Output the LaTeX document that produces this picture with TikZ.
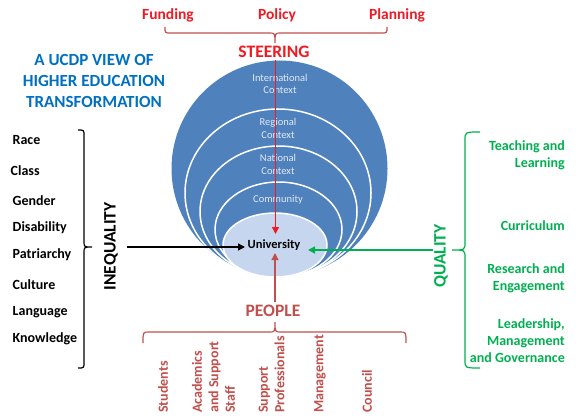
\documentclass[tikz,border=0pt]{standalone}
\usepackage{fontspec}
\setmainfont{Carlito}
\usetikzlibrary{arrows.meta}
\definecolor{outerblue}{HTML}{4F81BD}
\definecolor{unifill}{HTML}{C6D6EE}
\definecolor{ctxtext}{HTML}{E3E9F3}
\definecolor{titleblue}{HTML}{0070C0}
\definecolor{steerred}{HTML}{F01A22}
\definecolor{peoplebrown}{HTML}{C0504D}
\definecolor{qualgreen}{HTML}{00B050}
\tikzset{
  ring/.style={draw=white, line width=1.5pt, fill=outerblue},
  ctx/.style={text=ctxtext, font=\fontsize{10.5}{12.5}\selectfont, align=center, inner sep=0pt},
  leftitem/.style={font=\bfseries\fontsize{14}{16}\selectfont, anchor=west, inner sep=0pt},
  rightitem/.style={font=\bfseries\fontsize{14}{17}\selectfont, text=qualgreen, anchor=east, align=right, inner sep=0pt},
  topitem/.style={font=\bfseries\fontsize{15.5}{18}\selectfont, text=steerred, inner sep=0pt},
  botitem/.style={font=\bfseries\fontsize{14}{16.5}\selectfont, text=peoplebrown, rotate=90, anchor=west, align=left, inner sep=0pt},
  bigword/.style={font=\bfseries\fontsize{17.5}{20}\selectfont, inner sep=0pt},
  arr/.style={line width=1.3pt, -{Triangle[length=7pt,width=7pt]}},
  bracel/.style={line width=1.2pt}
}
\begin{document}
\begin{tikzpicture}[x=1pt,y=-1pt]
\useasboundingbox (0,0) rectangle (580,417);
% nested context ellipses
\fill[outerblue] (279.5,168.5) circle (108);
\draw[ring] (278,193) ellipse (93 and 84);
\draw[ring] (278.5,211.5) ellipse (78.5 and 65.5);
\draw[ring] (278.5,229.5) ellipse (63.5 and 47.5);
\draw[draw=white, line width=1.5pt, fill=unifill] (275,245) ellipse (52 and 32);
\node[ctx] (intl) at (280,84) {International\\Context};
\node[ctx] (regl) at (278,128.5) {Regional\\Context};
\node[ctx] (natl) at (278,164.5) {National\\Context};
\node[ctx] (comm) at (278,200) {Community};
\node[font=\bfseries\fontsize{12.5}{15}\selectfont, inner sep=0pt] (uni) at (274,245) {University};
% title
\node[font=\bfseries\fontsize{17}{21}\selectfont, text=titleblue, align=center, inner sep=0pt] (title) at (94,81) {A UCDP VIEW OF\\HIGHER EDUCATION\\TRANSFORMATION};
% top
\node[topitem] (fund) at (168,15) {Funding};
\node[topitem] (pol) at (277,15) {Policy};
\node[topitem] (plan) at (397,15) {Planning};
\draw[bracel, peoplebrown] (165,27) .. controls (165,33) .. (171,33) -- (269,33) .. controls (275,33) .. (275,43)
   .. controls (275,33) .. (281,33) -- (381,33) .. controls (387,33) .. (387,27);
\node[bigword, text=steerred] (steer) at (274,52) {STEERING};
\coordinate (steerstart) at (275.5,60);
\coordinate (steertip) at (275.5,234);
\draw[arr, steerred] (steerstart) -- (steertip);
% bottom
\node[bigword, text=peoplebrown] (people) at (273,311) {PEOPLE};
\coordinate (peoplestart) at (275,302);
\coordinate (peopletip) at (275,253);
\draw[arr, peoplebrown] (peoplestart) -- (peopletip);
\draw[bracel, peoplebrown] (143,343) .. controls (143,332) .. (149,332) -- (269,332) .. controls (275,332) .. (275,322)
   .. controls (275,332) .. (281,332) -- (400,332) .. controls (406,332) .. (406,343);
\node[botitem] (stud) at (163,413) {Students};
\node[botitem] (acad) at (213.5,413) {Academics\\and Support\\Staff};
\node[botitem] (supp) at (271.5,413) {Support\\Professionals};
\node[botitem] (mgmt) at (320,413) {Management};
\node[botitem] (coun) at (367,413) {Council};
% left
\node[leftitem] (race) at (12.5,140) {Race};
\node[leftitem] (class) at (10.5,171) {Class};
\node[leftitem] (gend) at (12.5,201) {Gender};
\node[leftitem] (disa) at (12.5,228) {Disability};
\node[leftitem] (patr) at (12.5,255) {Patriarchy};
\node[leftitem] (cult) at (12.5,285) {Culture};
\node[leftitem] (lang) at (12.5,312) {Language};
\node[leftitem] (know) at (12.5,339) {Knowledge};
\draw[line width=1.2pt, black] (78,130) .. controls (84,130) .. (84,136) -- (84,241) .. controls (84,247) .. (92,247)
   .. controls (84,247) .. (84,253) -- (84,362) .. controls (84,368) .. (78,368);
\node[bigword, rotate=90] (ineq) at (111,246.5) {INEQUALITY};
\coordinate (ineqstart) at (127,247);
\draw[arr, black] (ineqstart) -- (245,247);
% right
\node[rightitem] (teach) at (565,155) {Teaching and\\Learning};
\node[rightitem] (curr) at (565,226) {Curriculum};
\node[rightitem] (rese) at (565,278.5) {Research and\\Engagement};
\node[rightitem] (lead) at (565,340.5) {Leadership,\\Management\\and Governance};
\draw[line width=1.2pt, qualgreen] (480,132) .. controls (465,132) .. (465,140) -- (465,242) .. controls (465,250) .. (452,250)
   .. controls (465,250) .. (465,258) -- (465,360) .. controls (465,368) .. (480,368);
\node[bigword, rotate=90, text=qualgreen] (qual) at (441,256) {QUALITY};
\coordinate (qualstart) at (433,250);
\draw[arr, qualgreen] (qualstart) -- (308,250);
\end{tikzpicture}
\end{document}
